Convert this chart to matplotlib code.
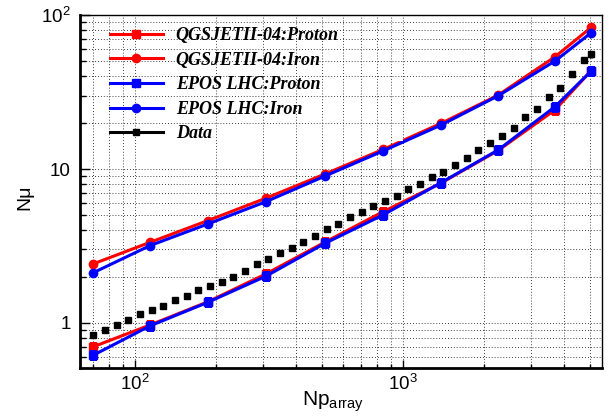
import matplotlib
matplotlib.use("Agg")
import matplotlib.pyplot as plt
from matplotlib.lines import Line2D
from matplotlib.path import Path
from matplotlib.ticker import FixedLocator, FixedFormatter, LogLocator, NullFormatter

plt.rcParams["font.family"] = ["Liberation Sans", "DejaVu Sans"]
plt.rcParams["mathtext.fontset"] = "custom"
plt.rcParams["mathtext.rm"] = "Liberation Sans"
plt.rcParams["mathtext.it"] = "Liberation Sans:italic"

# Simulated muon number vs. array size
np_model = [70, 114, 187, 308, 512, 843, 1387, 2265, 3690, 5035]
qgs_proton = [0.70, 0.97, 1.37, 2.08, 3.35, 5.28, 8.1, 13.2, 24.2, 43.5]
qgs_iron = [2.42, 3.34, 4.62, 6.46, 9.28, 13.4, 19.8, 30.2, 53.6, 83.2]
epos_proton = [0.617, 0.957, 1.36, 2.01, 3.29, 5.03, 8.15, 13.3, 25.4, 43.3]
epos_iron = [2.12, 3.18, 4.39, 6.13, 9.0, 13.1, 19.3, 29.9, 50.3, 76.8]

# Measured points
np_data = [70.0, 77.4, 85.5, 94.5, 104.5, 115.5, 127.7, 141.2, 156.1, 172.6,
           190.8, 210.9, 233.2, 257.8, 284.9, 315.0, 348.0, 384.8, 425.5, 470.3,
           519.9, 574.5, 635.4, 702.2, 776.3, 858.2, 948.4, 1048.6, 1159, 1281,
           1416, 1565, 1730, 1913, 2115, 2338, 2585, 2858, 3159, 3492,
           3860, 4267, 4717, 5035]
nmu_data = [0.836, 0.901, 0.971, 1.046, 1.139, 1.214, 1.289, 1.410, 1.504, 1.638,
            1.747, 1.845, 1.998, 2.167, 2.405, 2.604, 2.836, 3.085, 3.357, 3.673,
            4.058, 4.393, 4.857, 5.233, 5.749, 6.196, 6.710, 7.382, 8.03, 8.84,
            9.60, 10.61, 11.73, 13.28, 14.68, 16.38, 18.53, 21.66, 24.42, 29.22,
            33.44, 41.4, 51.0, 55.5]
nmu_data_err = [0] * 43 + [2.5]

y_ticks = [1, 10, 100]
y_tick_labels = ["1", "10", r"$\mathregular{10^{2}}$"]
x_ticks = [100, 1000]
x_tick_labels = [r"$\mathregular{10^{2}}$", r"$\mathregular{10^{3}}$"]

labels = ["QGSJETII-04:Proton", "QGSJETII-04:Iron", "EPOS LHC:Proton",
          "EPOS LHC:Iron", "Data"]

fig = plt.figure(figsize=(6.1, 4.2), dpi=100)
ax = fig.add_axes([0.131, 0.124, 0.856, 0.840])

red, blue = "#ff0000", "#0000ff"
lw = 2.2
model_lines = []
model_lines += ax.plot(np_model, qgs_proton, color=red, lw=lw, marker="s", ms=6.0)
model_lines += ax.plot(np_model, qgs_iron, color=red, lw=lw, marker="o", ms=6.0)
model_lines += ax.plot(np_model, epos_proton, color=blue, lw=lw, marker="s", ms=6.0)
model_lines += ax.plot(np_model, epos_iron, color=blue, lw=lw, marker="o", ms=6.0)
ax.errorbar(np_data, nmu_data, yerr=nmu_data_err, fmt="s", color="k", ms=4.3,
            elinewidth=2.5, capsize=0, zorder=3)

ax.set_xscale("log")
ax.set_yscale("log")
ax.set_xlim(62.4, 5530)
ax.set_ylim(0.51, 100)

ax.xaxis.set_major_locator(FixedLocator(x_ticks))
ax.xaxis.set_major_formatter(FixedFormatter(x_tick_labels))
ax.xaxis.set_minor_locator(LogLocator(base=10, subs=range(2, 10)))
ax.xaxis.set_minor_formatter(NullFormatter())
ax.yaxis.set_major_locator(FixedLocator(y_ticks))
ax.yaxis.set_major_formatter(FixedFormatter(y_tick_labels))
ax.yaxis.set_minor_locator(LogLocator(base=10, subs=range(2, 10)))
ax.yaxis.set_minor_formatter(NullFormatter())

ax.tick_params(axis="both", which="both", direction="in", labelsize=13.5, width=1.0)
ax.tick_params(axis="y", which="major", length=7.5, pad=6.5)
ax.tick_params(axis="y", which="minor", length=4)
ax.tick_params(axis="x", which="major", length=6, pad=4)
ax.tick_params(axis="x", which="minor", length=3)

ax.grid(True, which="both", color="k", lw=0.6, linestyle=(0, (1, 2.5)))
ax.set_axisbelow(True)
for side in ["left", "bottom"]:
    ax.spines[side].set_linewidth(2.0)
for side in ["top", "right"]:
    ax.spines[side].set_linewidth(1.0)

# the legend box is opaque: model curves are hidden where they run under it
box_right, box_bottom = 0.619, 0.643
clip = Path(
    [(0, 0), (1, 0), (1, 1), (0, 1), (0, 0),
     (0, box_bottom), (0, 1), (box_right, 1), (box_right, box_bottom), (0, box_bottom)],
    [Path.MOVETO, Path.LINETO, Path.LINETO, Path.LINETO, Path.CLOSEPOLY,
     Path.MOVETO, Path.LINETO, Path.LINETO, Path.LINETO, Path.CLOSEPOLY],
)
for line in model_lines:
    line.set_clip_path(clip, ax.transAxes)

handles = [
    Line2D([], [], color=red, lw=lw, marker="s", ms=6.0),
    Line2D([], [], color=red, lw=lw, marker="o", ms=6.0),
    Line2D([], [], color=blue, lw=lw, marker="s", ms=6.0),
    Line2D([], [], color=blue, lw=lw, marker="o", ms=6.0),
    Line2D([], [], color="k", lw=lw, marker="s", ms=4.3),
]
ax.legend(handles, labels, loc="upper left", bbox_to_anchor=(0.0575, 0.966),
          frameon=False, borderpad=0, borderaxespad=0, handlelength=2.94,
          handletextpad=0.7, labelspacing=0.42,
          prop={"family": "Liberation Serif", "weight": "bold", "style": "italic", "size": 13})

fig.text(0.041, 0.531, "Nμ", rotation=90, fontsize=14, ha="center", va="center")
fig.text(0.546, 0.043, r"Np$_{\mathregular{array}}$", fontsize=15, ha="center", va="center")

fig.savefig("out.png", dpi=100)
